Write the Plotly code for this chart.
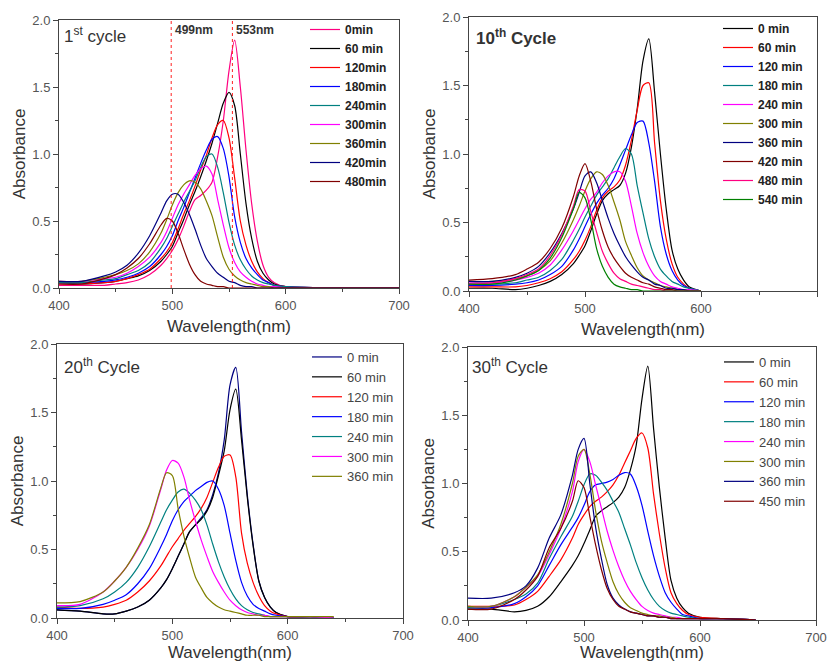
import plotly.graph_objects as go

# ---------------- data ----------------
WL = [400, 420, 440, 450, 460, 470, 480, 490, 495, 500, 505, 510, 515, 520, 525,
      530, 535, 540, 545, 550, 555, 560, 565, 570, 575, 580, 585, 590, 600]
WL_C1 = WL + [650, 700]
WL_C10 = WL
WL_C20 = WL + [620, 640]
WL_C30 = WL + [620, 648]

MARK_LINES_C1 = [499, 553]
MARK_LABELS_C1 = ["499nm", "553nm"]

LABELS_C1 = ["0min", "60 min", "120min", "180min", "240min", "300min", "360min", "420min", "480min"]
c1_0 = [.02, .02, .02, .03, .04, .06, .10, .17, .22, .28, .36, .46, .57, .66, .69, .73, .79, .98, 1.25, 1.62, 1.85, 1.5, 1.03, .63, .35, .17, .08, .04, .01, 0, 0]
c1_60 = [.04, .03, .04, .05, .07, .09, .13, .2, .25, .31, .41, .51, .62, .72, .83, .95, 1.08, 1.23, 1.38, 1.46, 1.36, 1.0, .63, .37, .2, .11, .06, .03, .01, 0, 0]
c1_120 = [.03, .03, .04, .05, .07, .1, .14, .22, .27, .34, .44, .55, .65, .76, .88, .99, 1.12, 1.22, 1.25, 1.12, .82, .5, .32, .2, .12, .07, .04, .02, .01, 0, 0]
c1_180 = [.04, .04, .05, .06, .08, .11, .16, .25, .31, .39, .5, .6, .71, .82, .93, 1.03, 1.11, 1.13, 1.04, .83, .53, .34, .22, .15, .1, .06, .04, .02, .01, 0, 0]
c1_240 = [.04, .04, .06, .07, .1, .13, .19, .3, .37, .46, .55, .64, .72, .8, .9, .98, 1.0, .9, .71, .49, .32, .21, .14, .09, .06, .04, .03, .02, .01, 0, 0]
c1_300 = [.05, .05, .07, .08, .11, .16, .23, .34, .42, .52, .62, .7, .77, .84, .89, .91, .85, .66, .47, .3, .19, .12, .08, .05, .03, .02, .01, .01, 0, 0, 0]
c1_360 = [.05, .05, .08, .1, .13, .18, .27, .41, .51, .62, .71, .77, .8, .79, .74, .65, .54, .38, .23, .14, .09, .06, .04, .03, .02, .01, .01, 0, 0, 0, 0]
c1_420 = [.05, .05, .09, .12, .17, .26, .39, .56, .65, .7, .7, .64, .55, .44, .32, .22, .16, .11, .08, .05, .04, .02, .01, .01, 0, 0, 0, 0, 0, 0, 0]
c1_480 = [.03, .03, .07, .1, .15, .22, .33, .47, .52, .5, .41, .29, .18, .1, .05, .03, .02, .01, .01, 0, 0, 0, 0, 0, 0, 0, 0, 0, 0, 0, 0]

LABELS_C10 = ["0 min", "60 min", "120 min", "180 min", "240 min", "300 min", "360 min", "420 min", "480 min", "540 min"]
c10_0 = [.02, .02, .01, .02, .04, .07, .12, .2, .26, .33, .44, .56, .66, .71, .74, .77, .86, 1.05, 1.33, 1.68, 1.84, 1.45, 1.0, .6, .3, .16, .08, .03, 0]
c10_60 = [.03, .03, .03, .04, .06, .09, .14, .23, .29, .37, .47, .59, .68, .73, .76, .81, .92, 1.1, 1.32, 1.5, 1.52, 1.08, .66, .38, .2, .1, .05, .02, 0]
c10_120 = [.04, .04, .05, .06, .08, .12, .18, .3, .38, .47, .56, .64, .7, .75, .82, .92, 1.03, 1.14, 1.23, 1.24, 1.08, .8, .47, .27, .15, .08, .04, .02, 0]
c10_180 = [.05, .05, .06, .08, .1, .15, .23, .37, .45, .54, .62, .7, .76, .82, .9, .98, 1.04, 1.0, .77, .57, .38, .25, .16, .11, .07, .05, .03, .02, 0]
c10_240 = [.06, .06, .08, .1, .13, .19, .3, .44, .52, .6, .67, .72, .79, .84, .87, .87, .8, .62, .42, .28, .18, .11, .07, .05, .03, .02, .01, .01, 0]
c10_300 = [.07, .07, .09, .11, .15, .22, .35, .52, .62, .73, .82, .87, .85, .77, .65, .52, .36, .26, .17, .11, .08, .06, .04, .03, .02, .01, .01, 0, 0]
c10_360 = [.07, .07, .1, .13, .18, .28, .42, .6, .72, .84, .87, .79, .66, .53, .42, .33, .25, .19, .14, .1, .08, .05, .04, .02, .02, .01, .01, 0, 0]
c10_420 = [.08, .09, .12, .16, .21, .31, .46, .69, .84, .93, .8, .6, .44, .32, .24, .18, .13, .1, .08, .06, .05, .03, .02, .01, .01, 0, 0, 0, 0]
c10_480 = [.05, .06, .09, .12, .16, .26, .41, .62, .74, .73, .58, .43, .29, .2, .13, .09, .07, .05, .04, .03, .02, .01, .01, 0, 0, 0, 0, 0, 0]
c10_540 = [.05, .05, .08, .11, .15, .24, .39, .6, .72, .68, .52, .31, .18, .1, .05, .03, .02, .01, .01, 0, 0, 0, 0, 0, 0, 0, 0, 0, 0]

LABELS_C20 = ["0 min", "60 min", "120 min", "180 min", "240 min", "300 min", "360 min"]
c20_0 = [.06, .05, .03, .03, .05, .08, .13, .22, .28, .36, .45, .54, .63, .68, .73, .79, .9, 1.06, 1.3, 1.7, 1.83, 1.36, .9, .54, .27, .15, .08, .04, .01, .01, 0]
c20_60 = [.06, .05, .03, .03, .05, .08, .13, .22, .28, .36, .45, .54, .63, .68, .72, .78, .88, 1.04, 1.22, 1.52, 1.67, 1.3, .88, .53, .27, .15, .08, .04, .01, .01, 0]
c20_120 = [.08, .07, .08, .1, .13, .19, .27, .38, .45, .52, .58, .64, .69, .74, .8, .88, .99, 1.1, 1.18, 1.19, 1.03, .62, .4, .26, .16, .09, .05, .03, .01, .01, 0]
c20_180 = [.07, .07, .1, .13, .17, .25, .36, .52, .61, .71, .79, .85, .89, .93, .96, .99, 1.0, .94, .82, .62, .42, .26, .16, .1, .07, .05, .03, .02, .01, .01, 0]
c20_240 = [.08, .09, .14, .19, .26, .37, .52, .7, .79, .86, .92, .94, .91, .86, .79, .68, .54, .41, .3, .21, .14, .09, .06, .04, .03, .02, .01, .01, .01, .01, 0]
c20_300 = [.09, .1, .19, .27, .37, .5, .67, .94, 1.08, 1.15, 1.13, 1.03, .86, .71, .57, .45, .34, .26, .19, .13, .09, .06, .04, .03, .02, .02, .01, .01, .01, .01, 0]
c20_360 = [.11, .12, .19, .27, .37, .51, .68, .95, 1.06, 1.04, .8, .6, .44, .3, .22, .15, .11, .08, .06, .05, .04, .03, .02, .02, .02, .01, .01, .01, .01, .01, .01]

LABELS_C30 = ["0 min", "60 min", "120 min", "180 min", "240 min", "300 min", "360 min", "450 min"]
c30_0 = [.08, .08, .06, .07, .1, .17, .28, .4, .47, .56, .66, .76, .8, .83, .86, .9, .97, 1.1, 1.28, 1.62, 1.86, 1.4, .97, .6, .29, .16, .09, .05, .02, .01, 0]
c30_60 = [.1, .1, .11, .15, .21, .32, .44, .6, .7, .77, .83, .87, .9, .94, .99, 1.06, 1.15, 1.24, 1.33, 1.37, 1.26, .92, .63, .38, .2, .12, .07, .04, .02, .01, 0]
c30_120 = [.09, .09, .12, .17, .25, .4, .55, .68, .75, .84, .94, .99, 1.0, 1.01, 1.03, 1.06, 1.08, 1.07, .98, .84, .65, .47, .32, .2, .13, .08, .04, .03, .01, .01, 0]
c30_180 = [.09, .1, .15, .19, .27, .45, .61, .76, .87, .99, 1.07, 1.06, 1.01, .95, .87, .79, .67, .55, .42, .31, .22, .15, .1, .07, .05, .04, .03, .02, .01, .01, 0]
c30_240 = [.1, .1, .17, .24, .32, .48, .67, .94, 1.16, 1.25, 1.16, .99, .82, .65, .51, .39, .29, .21, .15, .1, .07, .05, .04, .03, .02, .02, .01, .01, .01, .01, 0]
c30_300 = [.1, .1, .17, .24, .33, .5, .7, 1.0, 1.2, 1.25, 1.07, .8, .58, .42, .28, .19, .13, .09, .07, .05, .04, .03, .03, .02, .02, .01, .01, .01, .01, .01, 0]
c30_360 = [.16, .16, .2, .25, .38, .6, .77, 1.06, 1.25, 1.33, 1.0, .68, .45, .26, .16, .11, .08, .06, .05, .04, .03, .03, .02, .02, .01, .01, .01, .01, .01, .01, 0]
c30_450 = [.08, .08, .15, .22, .32, .53, .67, .87, 1.02, .97, .76, .55, .37, .23, .15, .1, .08, .06, .05, .04, .03, .03, .02, .02, .01, .01, .01, .01, .01, .01, 0]

# ---------------- styling ----------------
FONT = "Liberation Sans, Arial, sans-serif"
BLACK, RED, BLUE, CYAN = "#000000", "#FF0000", "#0000FF", "#008080"
MAGENTA, OLIVE, NAVY, WINE = "#FF00FF", "#808000", "#000080", "#800000"
PINK, GREEN = "#FF0080", "#008000"

panels = [
    dict(wl=WL_C1, labels=LABELS_C1,
         series=[c1_0, c1_60, c1_120, c1_180, c1_240, c1_300, c1_360, c1_420, c1_480],
         colors=[PINK, BLACK, RED, BLUE, CYAN, MAGENTA, OLIVE, NAVY, WINE],
         dom_x=(59, 399), dom_y=(20, 288), legend_px=(305, 15), bold=True),
    dict(wl=WL_C10, labels=LABELS_C10,
         series=[c10_0, c10_60, c10_120, c10_180, c10_240, c10_300, c10_360, c10_420, c10_480, c10_540],
         colors=[BLACK, RED, BLUE, CYAN, MAGENTA, OLIVE, NAVY, WINE, PINK, GREEN],
         dom_x=(469, 817), dom_y=(17, 291), legend_px=(718, 14), bold=True),
    dict(wl=WL_C20, labels=LABELS_C20,
         series=[c20_0, c20_60, c20_120, c20_180, c20_240, c20_300, c20_360],
         colors=[NAVY, BLACK, RED, BLUE, CYAN, MAGENTA, OLIVE],
         dom_x=(57, 403), dom_y=(344, 618), legend_px=(307, 342), bold=False),
    dict(wl=WL_C30, labels=LABELS_C30,
         series=[c30_0, c30_60, c30_120, c30_180, c30_240, c30_300, c30_360, c30_450],
         colors=[BLACK, RED, BLUE, CYAN, MAGENTA, OLIVE, NAVY, WINE],
         dom_x=(468, 816), dom_y=(347, 620), legend_px=(719, 347), bold=False),
]

W, H = 827, 662
fig = go.Figure()
layout = dict(width=W, height=H, margin=dict(l=0, r=0, t=0, b=0, autoexpand=False),
              paper_bgcolor="white", plot_bgcolor="white",
              font=dict(family=FONT, color="#333"), annotations=[], shapes=[])

AX_COLOR = "#444"
for i, p in enumerate(panels):
    n = "" if i == 0 else str(i + 1)
    leg = "legend" if i == 0 else "legend" + str(i + 1)
    for lab, ys, col in zip(p["labels"], p["series"], p["colors"]):
        fig.add_trace(go.Scatter(x=p["wl"], y=ys, name=lab, mode="lines",
                                 line=dict(color=col, width=1.2, shape="spline", smoothing=0.8),
                                 xaxis="x" + n, yaxis="y" + n, legend=leg))
    common = dict(showline=True, mirror=True, linecolor=AX_COLOR, linewidth=1,
                  ticks="outside", ticklen=5, tickcolor=AX_COLOR, showgrid=False, zeroline=False,
                  tickfont=dict(family=FONT, size=13, color="#555"))
    layout["xaxis" + n] = dict(common, domain=[p["dom_x"][0] / W, p["dom_x"][1] / W],
                               anchor="y" + n, range=[400, 700], dtick=100, tick0=400,
                               minor=dict(dtick=50, ticklen=3, ticks="outside", tickcolor=AX_COLOR, showgrid=False),
                               title=dict(text="Wavelength(nm)", font=dict(size=17, color="#333"), standoff=8))
    layout["yaxis" + n] = dict(common, domain=[1 - p["dom_y"][1] / H, 1 - p["dom_y"][0] / H],
                               anchor="x" + n, range=[0, 2], dtick=0.5, tick0=0, tickformat=".1f",
                               minor=dict(dtick=0.25, ticklen=3, ticks="outside", tickcolor=AX_COLOR, showgrid=False),
                               title=dict(text="Absorbance", font=dict(size=17, color="#333"), standoff=2))
    layout[leg] = dict(x=p["legend_px"][0] / W, y=1 - p["legend_px"][1] / H, xanchor="left", yanchor="top",
                       bgcolor="rgba(0,0,0,0)", itemwidth=30, tracegroupgap=0,
                       font=dict(family=FONT, size=12 if p["bold"] else 13,
                                 color="#222" if p["bold"] else "#444",
                                 weight="bold" if p["bold"] else "normal"))

# panel titles
titles = [("1<sup>st</sup> cycle", 62, 35, "normal"), ("10<sup>th</sup> Cycle", 474, 37, "bold"),
          ("20<sup>th</sup> Cycle", 62, 366, "normal"), ("30<sup>th</sup> Cycle", 470, 366, "normal")]
for txt, px, py, wgt in titles:
    layout["annotations"].append(dict(text=txt, x=px / W, y=1 - py / H, xref="paper", yref="paper",
                                      xanchor="left", yanchor="middle", showarrow=False,
                                      font=dict(family=FONT, size=17, color="#333", weight=wgt)))

# reference wavelength markers in panel 1
for wl, lab in zip(MARK_LINES_C1, MARK_LABELS_C1):
    layout["shapes"].append(dict(type="line", xref="x", yref="y", x0=wl, x1=wl, y0=0, y1=2,
                                 line=dict(color="#FF2020", width=1, dash="dot")))
    layout["annotations"].append(dict(text=lab, x=wl, y=2, xref="x", yref="y", xanchor="left",
                                      yanchor="top", xshift=2, yshift=-1, showarrow=False,
                                      font=dict(family=FONT, size=12, color="#333", weight="bold")))

fig.update_layout(**layout)
fig.write_html("out.html")
